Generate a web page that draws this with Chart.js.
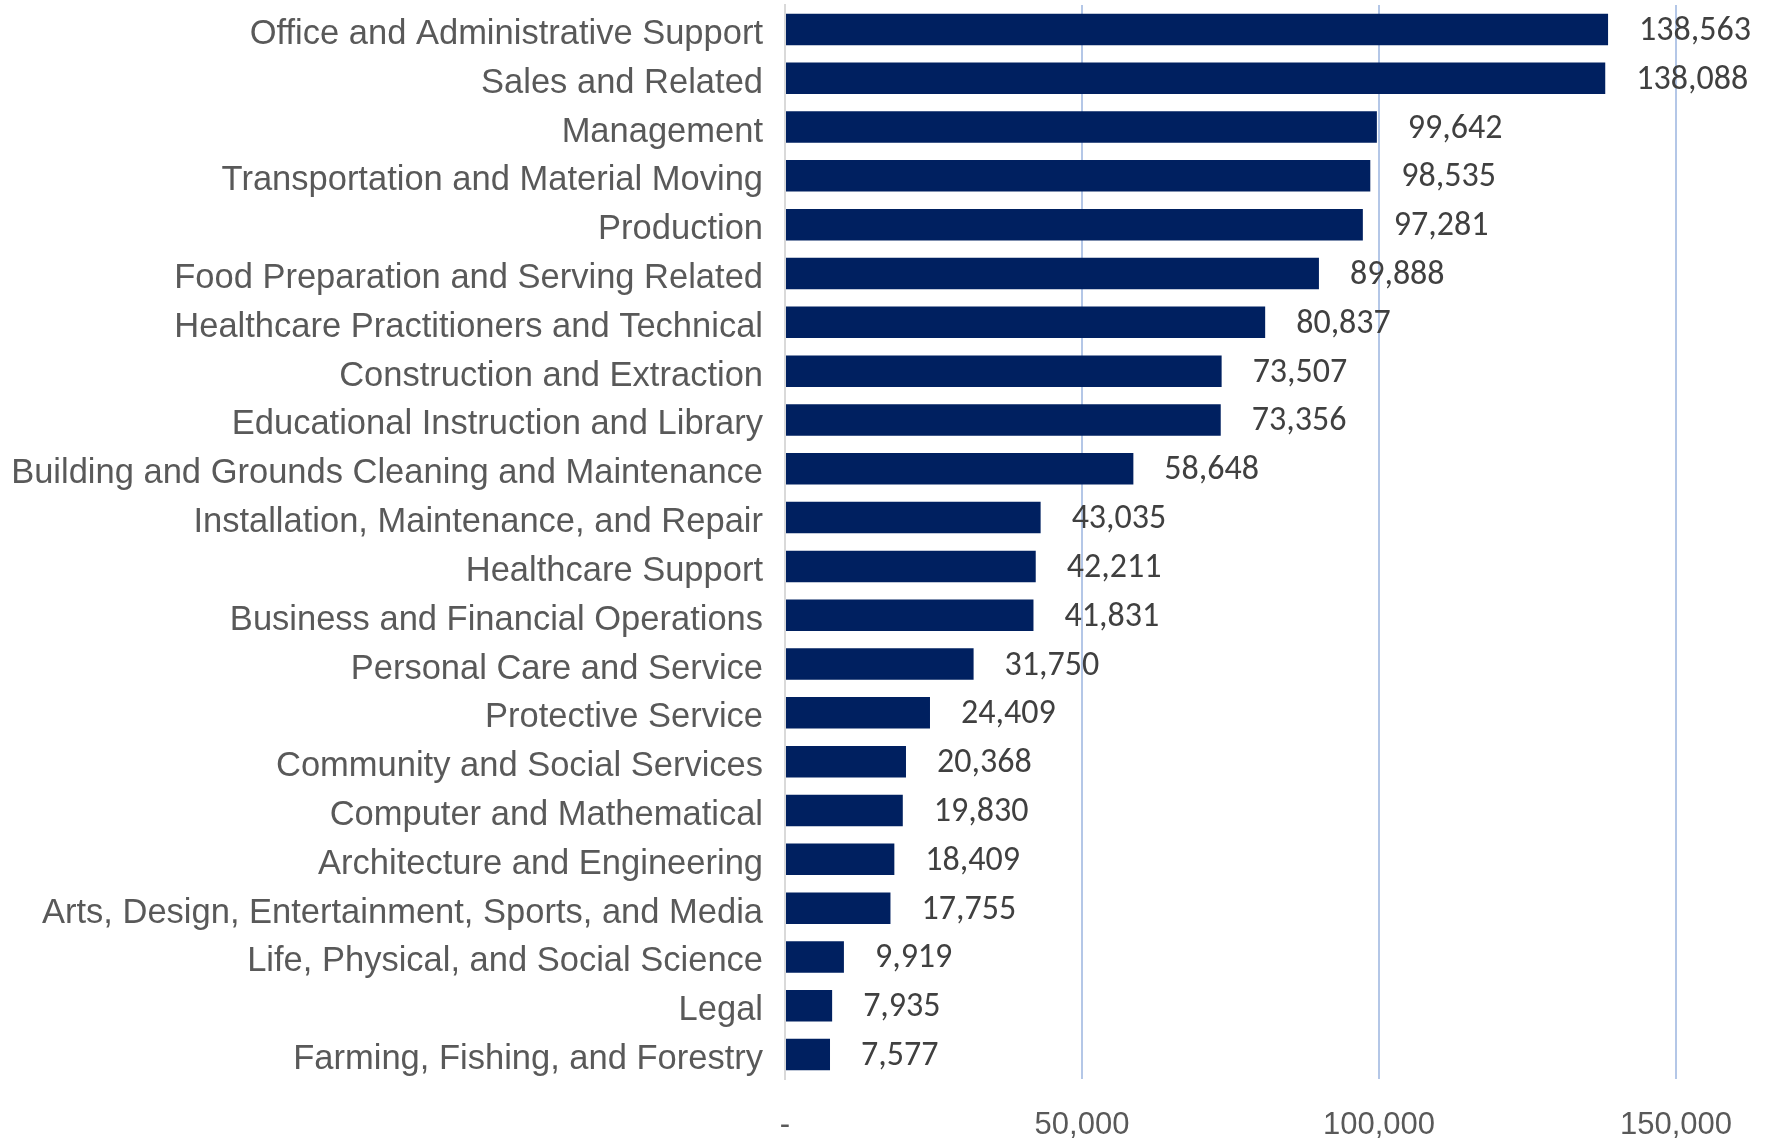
<!DOCTYPE html>
<html>
<head>
<meta charset="utf-8">
<script src="https://cdn.jsdelivr.net/npm/chart.js@4"></script>
<style>
  html, body { margin: 0; padding: 0; background: #ffffff; }
  #wrap { width: 1765px; height: 1138px; position: relative; }
</style>
</head>
<body>
<div id="wrap"><canvas id="c" width="1765" height="1138"></canvas></div>
<script>
const categories = [
  "Office and Administrative Support",
  "Sales and Related",
  "Management",
  "Transportation and Material Moving",
  "Production",
  "Food Preparation and Serving Related",
  "Healthcare Practitioners and Technical",
  "Construction and Extraction",
  "Educational Instruction and Library",
  "Building and Grounds Cleaning and Maintenance",
  "Installation, Maintenance, and Repair",
  "Healthcare Support",
  "Business and Financial Operations",
  "Personal Care and Service",
  "Protective Service",
  "Community and Social Services",
  "Computer and Mathematical",
  "Architecture and Engineering",
  "Arts, Design, Entertainment, Sports, and Media",
  "Life, Physical, and Social Science",
  "Legal",
  "Farming, Fishing, and Forestry"
];
const employment = [
  138563, 138088, 99642, 98535, 97281, 89888, 80837, 73507, 73356, 58648,
  43035, 42211, 41831, 31750, 24409, 20368, 19830, 18409, 17755, 9919, 7935, 7577
];
const xTickValues = [0, 50000, 100000, 150000];

const fmt = v => v.toLocaleString('en-US');

const valueLabels = {
  id: 'valueLabels',
  afterDatasetsDraw(chart, args, opts) {
    const ctx = chart.ctx;
    const meta = chart.getDatasetMeta(0);
    ctx.save();
    ctx.font = opts.font;
    ctx.fillStyle = opts.color;
    ctx.textAlign = 'left';
    ctx.textBaseline = 'middle';
    meta.data.forEach((bar, i) => {
      ctx.fillText(fmt(chart.data.datasets[0].data[i]), bar.x + opts.offset, bar.y + 2);
    });
    ctx.restore();
  }
};

new Chart(document.getElementById('c'), {
  type: 'bar',
  data: {
    labels: categories,
    datasets: [{
      data: employment,
      backgroundColor: '#002060',
      borderWidth: 0,
      categoryPercentage: 1.0,
      barPercentage: 0.645
    }]
  },
  options: {
    indexAxis: 'y',
    responsive: false,
    animation: false,
    layout: { padding: { top: 5, right: 89, left: 0, bottom: 0 } },
    plugins: {
      legend: { display: false },
      tooltip: { enabled: false },
      valueLabels: {
        font: '34px Carlito, Lato, "Open Sans", sans-serif',
        color: '#404040',
        offset: 31
      }
    },
    scales: {
      x: {
        min: 0,
        max: 150000,
        afterFit(scale) { scale.height = 59; scale.paddingLeft = 0; scale.paddingRight = 0; },
        afterBuildTicks(scale) { scale.ticks = xTickValues.map(v => ({ value: v })); },
        grid: {
          drawTicks: false,
          lineWidth: 2,
          color: ctx => (ctx.tick && ctx.tick.value === 0) ? 'rgba(0,0,0,0)' : '#B4C7E7'
        },
        border: { display: false },
        ticks: {
          padding: 28,
          color: '#595959',
          font: { family: '"Liberation Sans", Arial, sans-serif', size: 31 },
          callback: v => v === 0 ? '-' : fmt(v)
        }
      },
      y: {
        afterFit(scale) { scale.width = 785; scale.paddingTop = 0; scale.paddingBottom = 0; },
        grid: { display: false, drawTicks: false },
        border: { display: true, color: '#D9D9D9', width: 2 },
        ticks: {
          padding: 22,
          labelOffset: 5,
          color: '#595959',
          autoSkip: false,
          font: { family: '"Liberation Sans", Arial, sans-serif', size: 34.5 }
        }
      }
    }
  },
  plugins: [valueLabels]
});
</script>
</body>
</html>
